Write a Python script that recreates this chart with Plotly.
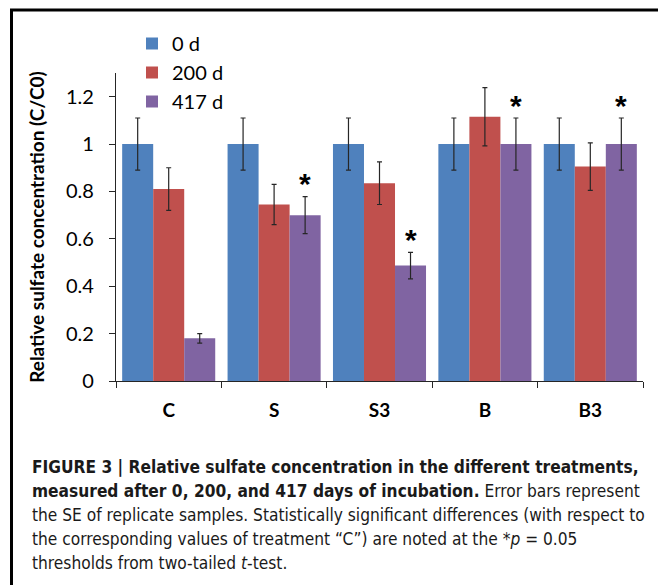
import plotly.graph_objects as go

categories = ["C", "S", "S3", "B", "B3"]
series_names = ["0 d", "200 d", "417 d"]
values_0d = [1.0, 1.0, 1.0, 1.0, 1.0]
errors_0d = [0.11, 0.11, 0.11, 0.11, 0.11]
values_200d = [0.81, 0.745, 0.835, 1.115, 0.905]
errors_200d = [0.09, 0.085, 0.09, 0.123, 0.10]
values_417d = [0.18, 0.70, 0.487, 1.0, 1.0]
errors_417d = [0.02, 0.078, 0.056, 0.11, 0.11]
significant_417d = [False, True, True, True, True]
colors = ["#4F81BD", "#C0504D", "#8064A2"]
y_ticks = [0, 0.2, 0.4, 0.6, 0.8, 1.0, 1.2]
y_ticklabels = ["0", "0.2", "0.4", "0.6", "0.8", "1", "1.2"]

W, H = 658, 585
L, R, T, B = 116, 15, 73, 204
pw, ph = W - L - R, H - T - B

def px(x):
    return (x - L) / pw

def py(y):
    return (H - B - y) / ph

chart_font = "Lato, Calibri, Carlito, 'Open Sans', sans-serif"
cap_font = "'DejaVu Sans Condensed', 'Liberation Sans Narrow', sans-serif"

fig = go.Figure()
for name, vals, errs, col in zip(series_names,
                                 [values_0d, values_200d, values_417d],
                                 [errors_0d, errors_200d, errors_417d], colors):
    fig.add_trace(go.Bar(
        x=categories, y=vals, name=name, marker=dict(color=col, line=dict(width=0)),
        error_y=dict(type="data", array=errs, visible=True, color="#262626",
                     thickness=1.2, width=2.5),
    ))

annotations = []
for i, (cat, sig) in enumerate(zip(categories, significant_417d)):
    if sig:
        annotations.append(dict(
            x=cat, y=values_417d[i] + errors_417d[i], xref="x", yref="y",
            text="<b>*</b>", showarrow=False, xanchor="center", yanchor="middle",
            xshift=31, yshift=13, font=dict(family="Liberation Sans, Arial, sans-serif", size=30, color="#000000"),
        ))

caption_lines = [
    "<b>FIGURE 3 | Relative sulfate concentration in the different treatments,</b>",
    "<b>measured after 0, 200, and 417 days of incubation.</b> Error bars represent",
    "the SE of replicate samples. Statistically significant differences (with respect to",
    "the corresponding values of treatment \u201cC\u201d) are noted at the *<i>p</i> = 0.05",
    "thresholds from two-tailed <i>t</i>-test.",
]
caption_y = [467, 491, 515, 539, 563]
for line, yy in zip(caption_lines, caption_y):
    annotations.append(dict(
        x=px(30), y=py(yy), xref="paper", yref="paper", text=line, showarrow=False,
        xanchor="left", yanchor="middle", align="left",
        font=dict(family=cap_font, size=17.2, color="#1a1a1a"),
    ))

shapes = [
    dict(type="line", xref="paper", yref="paper", x0=px(10), x1=px(660), y0=py(10), y1=py(10),
         line=dict(color="#000000", width=3)),
    dict(type="line", xref="paper", yref="paper", x0=px(11.5), x1=px(11.5), y0=py(9), y1=py(590),
         line=dict(color="#000000", width=3)),
]

fig.update_layout(
    width=W, height=H, autosize=False,
    margin=dict(l=L, r=R, t=T, b=B),
    paper_bgcolor="white", plot_bgcolor="white",
    barmode="group", bargap=0.117, bargroupgap=0,
    font=dict(family=chart_font, size=18, color="#000000"),
    showlegend=True,
    legend=dict(x=px(132), y=py(24), xanchor="left", yanchor="top",
                bgcolor="rgba(0,0,0,0)", font=dict(family=chart_font, size=20),
                traceorder="normal", itemwidth=30),
    xaxis=dict(showline=True, linecolor="#262626", linewidth=1.3, ticks="outside",
               tickson="boundaries", ticklen=6, tickcolor="#262626", tickwidth=1.3,
               tickvals=categories, ticktext=[f"<b>{c}</b>" for c in categories],
               tickfont=dict(family=chart_font, size=19, color="#000000"),
               ticklabelstandoff=12,
               showgrid=False, zeroline=False, fixedrange=True),
    yaxis=dict(range=[0, 1.3], tickvals=y_ticks, ticktext=y_ticklabels, showline=True,
               linecolor="#262626", linewidth=1.3, ticks="outside", ticklen=6,
               tickcolor="#262626", tickwidth=1.3, showgrid=False, zeroline=False,
               tickfont=dict(family=chart_font, size=20, color="#000000"),
               ticklabelstandoff=11,
               title=dict(text="<b>Relative sulfate concentration (C/C0)</b>",
                          font=dict(family=chart_font, size=19), standoff=16)),
    annotations=annotations, shapes=shapes,
)

fig.write_html("out.html", config={"displayModeBar": False},
               post_script="document.body.style.margin='0px';document.body.style.overflow='hidden';")
